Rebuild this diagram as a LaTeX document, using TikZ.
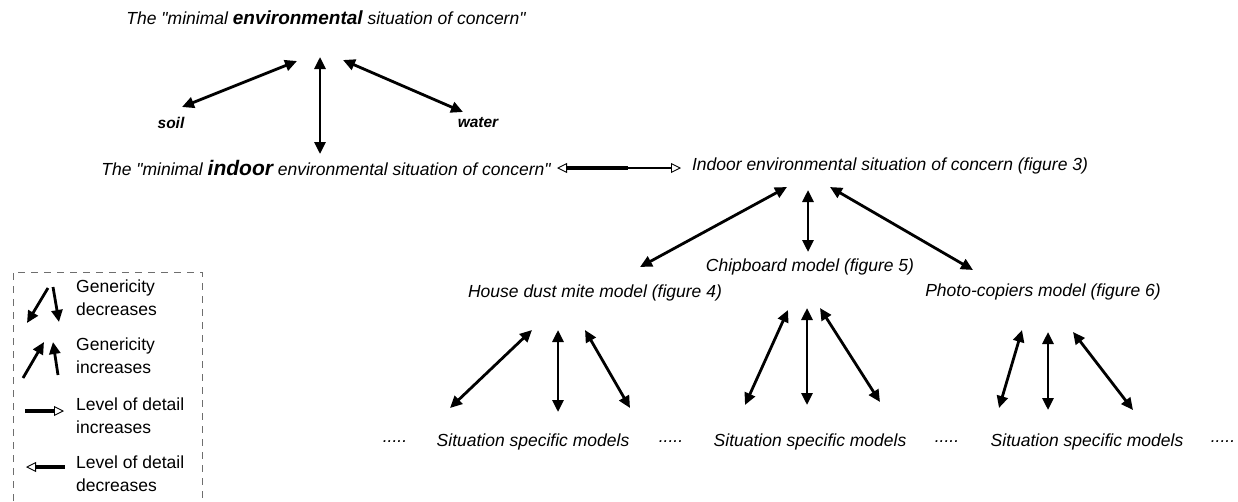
\documentclass[tikz,border=0pt]{standalone}
\usepackage{fontspec}
\setmainfont{Liberation Sans}[Ligatures=TeXOff]
\usetikzlibrary{arrows.meta}
\definecolor{boxgray}{RGB}{110,110,110}
\tikzset{
  lbl/.style={inner sep=0pt, font=\fontsize{17.5}{23}\selectfont\itshape},
  leaf/.style={inner sep=0pt, font=\fontsize{15.5}{18}\selectfont\bfseries\itshape},
  legtext/.style={inner sep=0pt, anchor=west, align=left, font=\fontsize{17.5}{23}\selectfont},
  filltip/.tip={Triangle[length=12pt,width=11pt]},
  opentip/.tip={Triangle[open,length=10pt,width=10pt,line width=0.9pt]},
  dbl/.style={line width=2.8pt, {filltip}-{filltip}},
  one/.style={line width=2.8pt, -{filltip}},
  legendbox/.style={draw=boxgray, line width=0.6pt, dash pattern=on 7pt off 6pt},
}
\begin{document}
\begin{tikzpicture}[x=1pt,y=-1pt]
\path[use as bounding box] (0,0) rectangle (1238,501);

% generic and indoor concern levels
\node[lbl] (t1) at (326,18) {The "minimal {\fontsize{19}{23}\selectfont\bfseries environmental} situation of concern"};
\node[leaf] (soil) at (171,123) {soil};
\node[leaf] (water) at (478,123) {water};
\node[lbl] (t2) at (326,168) {The "minimal {\fontsize{21}{23}\selectfont\bfseries indoor} environmental situation of concern"};
\node[lbl] (ind) at (890,166) {Indoor environmental situation of concern (figure 3)};

% models
\node[lbl] (chip) at (810,267) {Chipboard model (figure 5)};
\node[lbl] (house) at (595,293) {House dust mite model (figure 4)};
\node[lbl] (photo) at (1043,292) {Photo-copiers model (figure 6)};

% situation specific models
\node[lbl] (s1) at (533,442) {Situation specific models};
\node[lbl] (s2) at (810,442) {Situation specific models};
\node[lbl] (s3) at (1087,442) {Situation specific models};
\node[lbl] (d0) at (395,442) {.....};
\node[lbl] (d1) at (671,442) {.....};
\node[lbl] (d2) at (947,442) {.....};
\node[lbl] (d3) at (1223,442) {.....};

% top fan
\draw[dbl] ([shift={(-29,43)}]t1.center) -- ([shift={(11,-16)}]soil.center);
\draw[dbl] ([shift={(-6,39)}]t1.center) -- ([shift={(-6,-14)}]t2.center);
\draw[dbl] ([shift={(17,42)}]t1.center) -- ([shift={(-15,-11)}]water.center);

% level of detail link
\draw[line width=3.4pt] ([shift={(241,0)}]t2.center) -- ([shift={(-262,2)}]ind.center);
\draw[line width=1.6pt, {opentip}-{opentip}] ([shift={(231,0)}]t2.center) -- ([shift={(-209,2)}]ind.center);

% indoor fan
\draw[dbl] ([shift={(-103,21)}]ind.center) -- ([shift={(45,-26)}]house.center);
\draw[dbl] ([shift={(-82,24)}]ind.center) -- ([shift={(-2,-15)}]chip.center);
\draw[dbl] ([shift={(-60,21)}]ind.center) -- ([shift={(-70,-22)}]photo.center);

% house dust mite fan
\draw[dbl] ([shift={(-63,37)}]house.center) -- ([shift={(-83,-34)}]s1.center);
\draw[dbl] ([shift={(-37,37)}]house.center) -- ([shift={(25,-30)}]s1.center);
\draw[dbl] ([shift={(-10,37)}]house.center) -- ([shift={(97,-34)}]s1.center);

% chipboard fan
\draw[dbl] ([shift={(-22,43)}]chip.center) -- ([shift={(-65,-37)}]s2.center);
\draw[dbl] ([shift={(-3,41)}]chip.center) -- ([shift={(-3,-37)}]s2.center);
\draw[dbl] ([shift={(10,41)}]chip.center) -- ([shift={(70,-40)}]s2.center);

% photo-copiers fan
\draw[dbl] ([shift={(-21,38)}]photo.center) -- ([shift={(-88,-34)}]s3.center);
\draw[dbl] ([shift={(5,40)}]photo.center) -- ([shift={(-39,-32)}]s3.center);
\draw[dbl] ([shift={(30,40)}]photo.center) -- ([shift={(46,-32)}]s3.center);

% legend
\draw[legendbox] (13,501) -- (13,272) -- (202,272) -- (202,501);
\draw[one] (48,288) -- (27,323);
\draw[one] (53,287) -- (59,322);
\node[legtext] (lg1) at (76,298) {Genericity\\decreases};
\draw[one] (23,378) -- (44,342);
\draw[one] (58,375) -- (53,342);
\node[legtext] (lg2) at (76,356) {Genericity\\increases};
\draw[line width=3.4pt] (25,411) -- (54,411);
\draw[line width=1.6pt, -{opentip}] (50,411) -- (64,411);
\node[legtext] (lg3) at (76,416) {Level of detail\\increases};
\draw[line width=1.6pt, -{opentip}] (40,467) -- (26,467);
\draw[line width=3.4pt] (36,467) -- (65,467);
\node[legtext] (lg4) at (76,474) {Level of detail\\decreases};
\end{tikzpicture}
\end{document}
